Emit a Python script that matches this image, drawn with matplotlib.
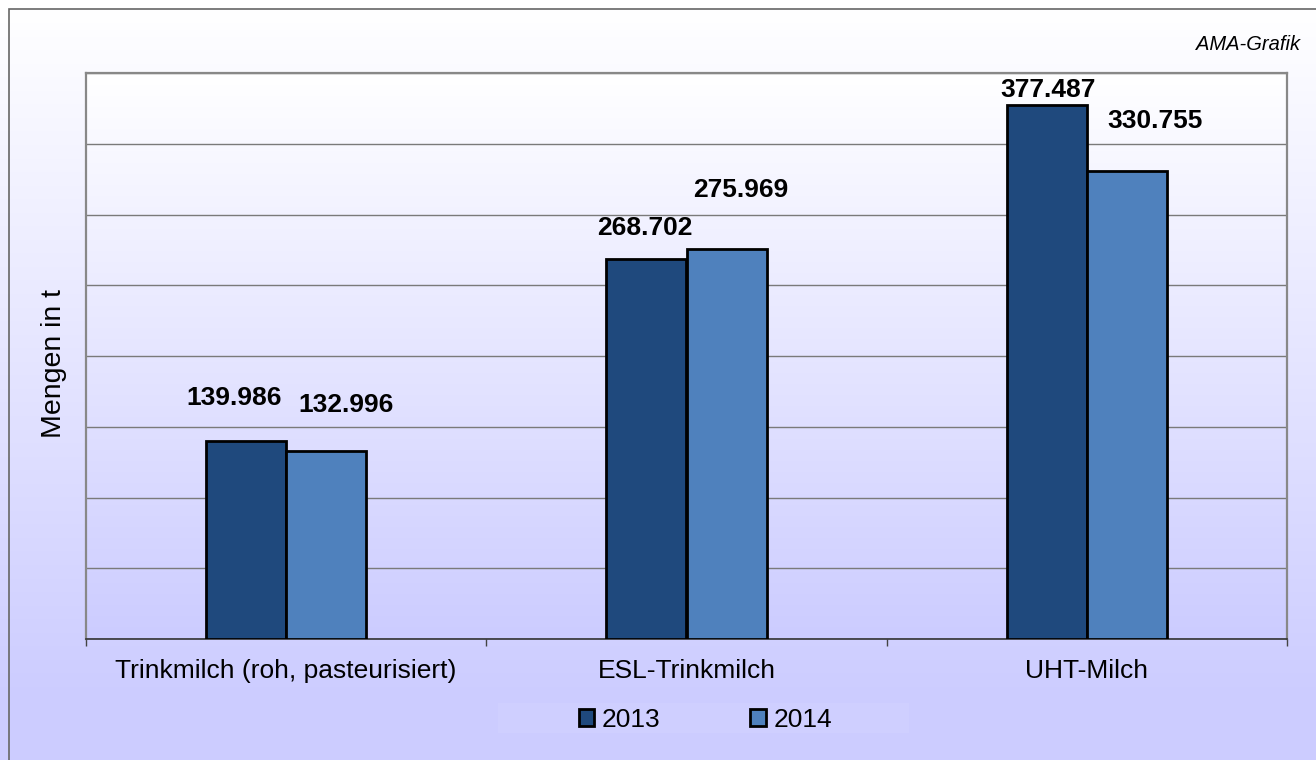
import numpy as np
import matplotlib
matplotlib.use('Agg')
import matplotlib.pyplot as plt
from matplotlib.patches import Rectangle

# ---- data ----
categories = ["Trinkmilch (roh, pasteurisiert)", "ESL-Trinkmilch", "UHT-Milch"]
series_names = ["2013", "2014"]
values_2013 = [139986, 268702, 377487]
values_2014 = [132996, 275969, 330755]

colors = ["#1F497D", "#4F81BD"]
# label placement (pixels): horizontal shift, baseline height above bar top
label_offsets_2013 = [(-12, 36), (-1.5, 24), (1, 8)]
label_offsets_2014 = [(19.5, 39), (14, 51.7), (28.5, 42.7)]

W, H, DPI = 1316, 760, 100
plt.rcParams['font.family'] = ['Liberation Sans', 'DejaVu Sans']

fig = plt.figure(figsize=(W / DPI, H / DPI), dpi=DPI)

# ---- figure background gradient ----
top_c = np.array([1.0, 1.0, 1.0])
bot_c = np.array([0xcc, 0xcc, 0xff]) / 255
bg = fig.add_axes([0, 0, 1, 1], zorder=-10)
bg.set_axis_off()
ys = np.arange(H)
frac = np.clip((ys - 9) / 691, 0, 1)
grad = top_c[None, :] * (1 - frac[:, None]) + bot_c[None, :] * frac[:, None]
bg.imshow(grad[:, None, :], aspect='auto', extent=[0, 1, 0, 1], origin='upper')
bg.set_xlim(0, 1)
bg.set_ylim(0, 1)
bg.add_patch(Rectangle((9 / W, -0.1), 1.2, (1 - 9 / H) + 0.1, fill=False,
                       edgecolor='#666666', lw=1.2))
# legend background strip (subtle)
bg.add_patch(Rectangle((498 / W, 1 - 733 / H), (909 - 498) / W, 30 / H,
                       facecolor='#cfcfff', edgecolor='none'))

# ---- main axes ----
ax = fig.add_axes([86 / W, (H - 639) / H, (1287 - 86) / W, (639 - 73) / H])
ax.patch.set_alpha(0)
f2 = np.linspace(0, 1, 256)
grad2 = top_c[None, :] * (1 - f2[:, None]) + bot_c[None, :] * f2[:, None]
ax.imshow(grad2[:, None, :], aspect='auto', extent=[0, 1, 0, 1],
          transform=ax.transAxes, zorder=0, origin='upper')

x = np.arange(len(categories))
w = 0.2
b1 = ax.bar(x - w / 2, values_2013, w, color=colors[0], edgecolor='black',
            lw=2.0, zorder=3, label=series_names[0])
b2 = ax.bar(x + w / 2, values_2014, w, color=colors[1], edgecolor='black',
            lw=2.0, zorder=3, label=series_names[1])

ax.set_xlim(-0.5, 2.5)
ax.set_ylim(0, 400000)
ax.set_yticks(np.arange(0, 400001, 50000))
ax.tick_params(axis='y', length=0, labelleft=False)
ax.set_axisbelow(True)
ax.yaxis.grid(True, color='#7a7a7a', lw=1.0, zorder=1)

ax.set_xticks([-0.5, 0.5, 1.5, 2.5])
ax.set_xticklabels([])
ax.tick_params(axis='x', which='major', length=5, width=1, color='#444444', direction='out')
ax.set_xticks(x, minor=True)
ax.set_xticklabels(categories, minor=True, fontsize=19)
ax.tick_params(axis='x', which='minor', length=0, pad=14.5)

for side in ['left', 'top', 'right']:
    ax.spines[side].set_color('#888888')
    ax.spines[side].set_linewidth(1.6)
ax.spines['bottom'].set_color('#333333')
ax.spines['bottom'].set_linewidth(1.2)


def fmt(v):
    return f"{v:,}".replace(',', '.')


for xi, v, (dx, dy) in zip(x - w / 2, values_2013, label_offsets_2013):
    ax.annotate(fmt(v), xy=(xi, v), xytext=(dx * 72 / DPI, dy * 72 / DPI),
                textcoords='offset points', ha='center', va='baseline',
                fontsize=19, fontweight='bold', zorder=5)
for xi, v, (dx, dy) in zip(x + w / 2, values_2014, label_offsets_2014):
    ax.annotate(fmt(v), xy=(xi, v), xytext=(dx * 72 / DPI, dy * 72 / DPI),
                textcoords='offset points', ha='center', va='baseline',
                fontsize=19, fontweight='bold', zorder=5)

# y label
fig.text(61 / W, 1 - 363 / H, 'Mengen in t', rotation=90, rotation_mode='anchor',
         ha='center', va='baseline', fontsize=20.5)

# source note
fig.text(1300 / W, 1 - 50 / H, 'AMA-Grafik', ha='right', va='baseline',
         style='italic', fontsize=14.5)

# legend
leg = fig.legend(handles=[b1, b2], labels=series_names, loc='center',
                 bbox_to_anchor=(705.5 / W, 1 - 720 / H), ncol=2, frameon=False,
                 fontsize=19, handlelength=0.58, handleheight=0.58,
                 handletextpad=0.3, columnspacing=3.4, borderpad=0.2)
for h in leg.legend_handles:
    h.set_linewidth(2.0)

fig.savefig('out.png', dpi=DPI)
